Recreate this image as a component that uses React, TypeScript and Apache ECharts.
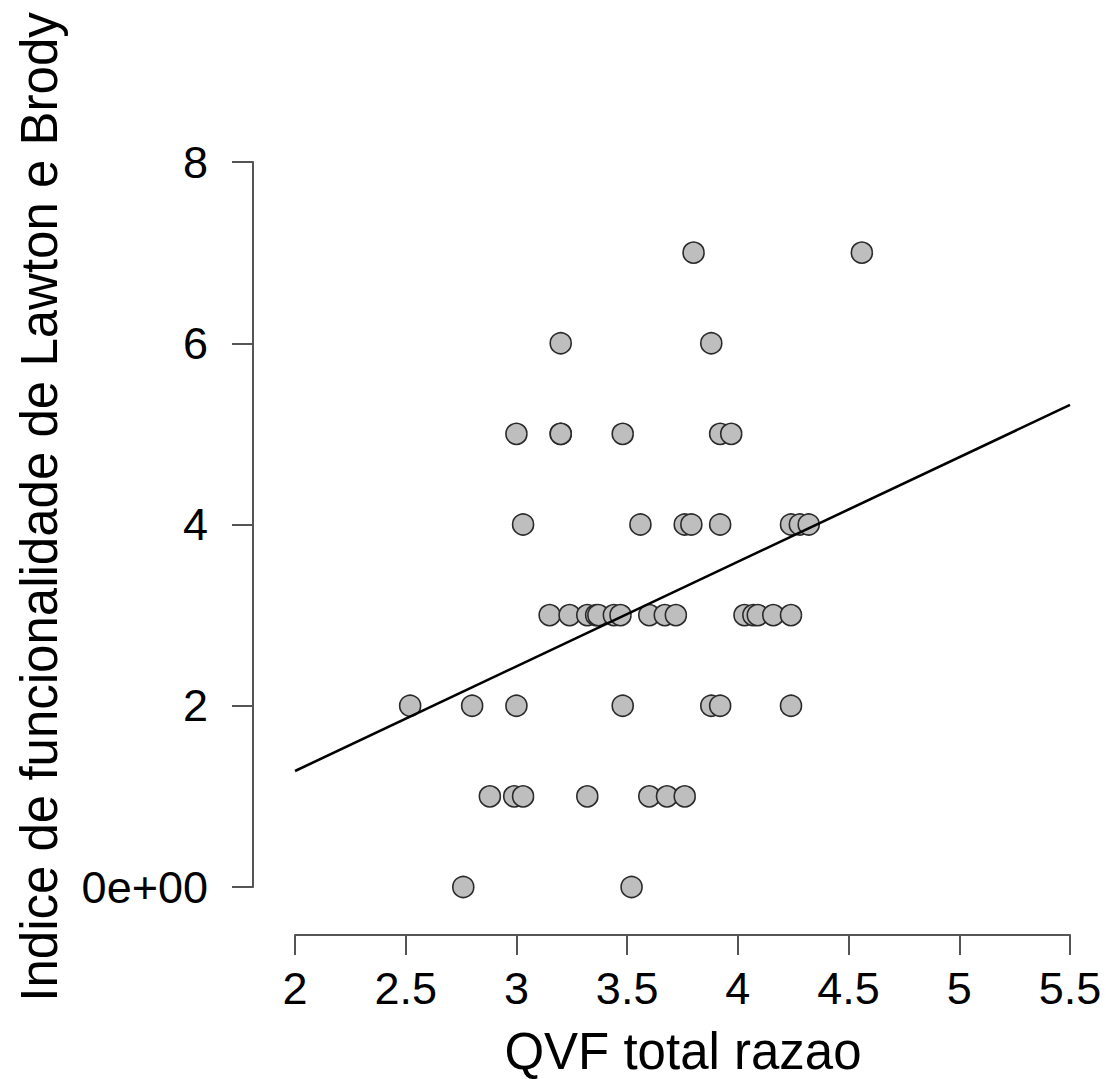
import React, { useEffect, useRef } from "react";
import * as echarts from "echarts";

const row7 = [3.8, 4.56];
const row6 = [3.2, 3.88];
const row5 = [3.0, 3.2, 3.2, 3.48, 3.92, 3.97];
const row4 = [3.03, 3.56, 3.76, 3.79, 3.92, 4.24, 4.28, 4.32];
const row3 = [3.15, 3.24, 3.32, 3.36, 3.37, 3.44, 3.47, 3.6, 3.67, 3.72, 4.03, 4.07, 4.09, 4.16, 4.24];
const row2 = [2.52, 2.8, 3.0, 3.48, 3.88, 3.92, 4.24];
const row1 = [2.88, 2.99, 3.03, 3.32, 3.6, 3.68, 3.76];
const row0 = [2.76, 3.52];
const rows: [number, number[]][] = [
  [7, row7], [6, row6], [5, row5], [4, row4], [3, row3], [2, row2], [1, row1], [0, row0],
];
const fitLine = [[2, 1.28], [5.5, 5.32]];
const xTicks = [2, 2.5, 3, 3.5, 4, 4.5, 5, 5.5];
const yTicks = [0, 2, 4, 6, 8];
const xTitle = "QVF total razao";
const yTitle = "Indice de funcionalidade de Lawton e Brody";

export default function App() {
  const ref = useRef<HTMLDivElement>(null);
  useEffect(() => {
    if (!ref.current) return;
    const chart = echarts.init(ref.current, null, { renderer: "svg" });
    const points: number[][] = [];
    rows.forEach(([y, xs]) => xs.forEach((x) => points.push([x, y])));
    const font = "'Liberation Sans', Arial, sans-serif";
    chart.setOption({
      animation: false,
      backgroundColor: "#ffffff",
      grid: { left: 295, right: 36, top: 162, bottom: 192 },
      xAxis: {
        type: "value",
        min: xTicks[0],
        max: xTicks[xTicks.length - 1],
        interval: 0.5,
        offset: 48,
        splitLine: { show: false },
        axisLine: { show: true, onZero: false, lineStyle: { color: "#555", width: 2 } },
        axisTick: { show: true, length: 20, lineStyle: { color: "#555", width: 2 } },
        axisLabel: {
          color: "#000",
          fontSize: 45,
          lineHeight: 45,
          fontFamily: font,
          margin: 31,
          showMinLabel: true,
          showMaxLabel: true,
          formatter: (v: number) => String(v),
        },
      },
      yAxis: {
        type: "value",
        min: yTicks[0],
        max: yTicks[yTicks.length - 1],
        interval: 2,
        offset: 42,
        splitLine: { show: false },
        axisLine: { show: true, onZero: false, lineStyle: { color: "#555", width: 2 } },
        axisTick: { show: true, length: 21, lineStyle: { color: "#555", width: 2 } },
        axisLabel: {
          color: "#000",
          fontSize: 45,
          lineHeight: 45,
          fontFamily: font,
          margin: 45,
          formatter: (v: number) => (v === 0 ? "0e+00" : String(v)),
        },
      },
      graphic: [
        {
          type: "text",
          x: 683,
          y: 1051,
          style: {
            text: xTitle,
            fontSize: 51,
            fontFamily: font,
            fill: "#000",
            align: "center",
            verticalAlign: "middle",
          },
        },
        {
          type: "text",
          x: 39,
          y: 507,
          rotation: Math.PI / 2,
          style: {
            text: yTitle,
            fontSize: 51,
            fontFamily: font,
            fill: "#000",
            align: "center",
            verticalAlign: "middle",
          },
        },
      ],
      series: [
        {
          type: "scatter",
          data: points,
          symbol: "circle",
          symbolSize: 21,
          itemStyle: { color: "#bebebe", borderColor: "#2a2a2a", borderWidth: 1.6, opacity: 1 },
          z: 2,
        },
        {
          type: "line",
          data: fitLine,
          symbol: "none",
          lineStyle: { color: "#000", width: 2.6 },
          z: 3,
        },
      ],
    });
    return () => chart.dispose();
  }, []);
  return <div ref={ref} style={{ width: 1106, height: 1079, position: "absolute", left: 0, top: 0 }} />;
}
